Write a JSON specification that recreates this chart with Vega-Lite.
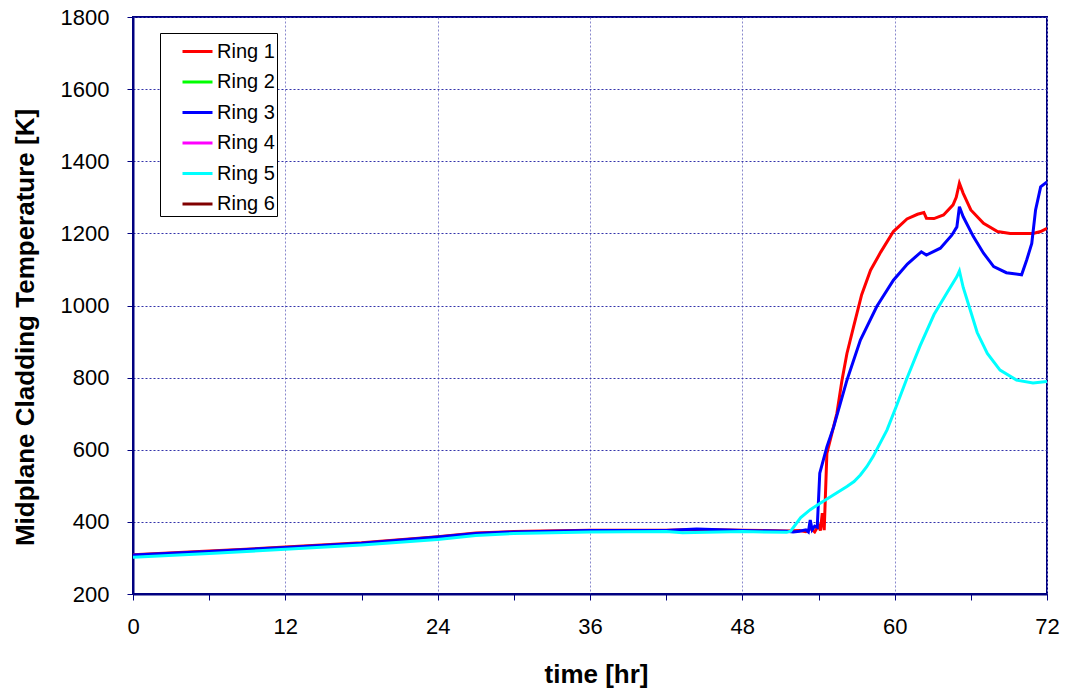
{
  "$schema": "https://vega.github.io/schema/vega-lite/v6.json",
  "width": 914,
  "height": 577,
  "autosize": {"type": "none"},
  "padding": {"left": 133, "top": 17, "right": 19, "bottom": 98},
  "background": "white",
  "config": {
    "font": "Liberation Sans",
    "view": {"stroke": "#000080", "strokeWidth": 2}
  },
  "data": {
    "values": [
      {"ring": "Ring 1", "t": 0, "T": 309},
      {"ring": "Ring 1", "t": 6, "T": 319},
      {"ring": "Ring 1", "t": 12, "T": 330},
      {"ring": "Ring 1", "t": 18, "T": 342},
      {"ring": "Ring 1", "t": 24, "T": 359},
      {"ring": "Ring 1", "t": 27, "T": 369},
      {"ring": "Ring 1", "t": 30, "T": 373},
      {"ring": "Ring 1", "t": 36, "T": 377},
      {"ring": "Ring 1", "t": 42, "T": 377},
      {"ring": "Ring 1", "t": 44.4, "T": 379},
      {"ring": "Ring 1", "t": 48, "T": 377},
      {"ring": "Ring 1", "t": 51.5, "T": 375},
      {"ring": "Ring 1", "t": 52.5, "T": 376},
      {"ring": "Ring 1", "t": 53.0, "T": 373},
      {"ring": "Ring 1", "t": 53.4, "T": 382},
      {"ring": "Ring 1", "t": 53.7, "T": 372},
      {"ring": "Ring 1", "t": 54.0, "T": 390},
      {"ring": "Ring 1", "t": 54.15, "T": 376},
      {"ring": "Ring 1", "t": 54.3, "T": 424},
      {"ring": "Ring 1", "t": 54.45, "T": 377},
      {"ring": "Ring 1", "t": 54.66, "T": 590},
      {"ring": "Ring 1", "t": 55.05, "T": 645},
      {"ring": "Ring 1", "t": 55.45, "T": 701},
      {"ring": "Ring 1", "t": 55.85, "T": 793},
      {"ring": "Ring 1", "t": 56.24, "T": 867},
      {"ring": "Ring 1", "t": 56.76, "T": 941},
      {"ring": "Ring 1", "t": 57.4, "T": 1030},
      {"ring": "Ring 1", "t": 58.1, "T": 1098},
      {"ring": "Ring 1", "t": 58.9, "T": 1148},
      {"ring": "Ring 1", "t": 59.9, "T": 1205},
      {"ring": "Ring 1", "t": 60.97, "T": 1240},
      {"ring": "Ring 1", "t": 61.8, "T": 1253},
      {"ring": "Ring 1", "t": 62.3, "T": 1258},
      {"ring": "Ring 1", "t": 62.5, "T": 1242},
      {"ring": "Ring 1", "t": 63.1, "T": 1241},
      {"ring": "Ring 1", "t": 63.85, "T": 1251},
      {"ring": "Ring 1", "t": 64.6, "T": 1279},
      {"ring": "Ring 1", "t": 64.85, "T": 1300},
      {"ring": "Ring 1", "t": 65.1, "T": 1339},
      {"ring": "Ring 1", "t": 65.4, "T": 1311},
      {"ring": "Ring 1", "t": 66.0, "T": 1265},
      {"ring": "Ring 1", "t": 67.0, "T": 1228},
      {"ring": "Ring 1", "t": 68.1, "T": 1205},
      {"ring": "Ring 1", "t": 69.1, "T": 1200},
      {"ring": "Ring 1", "t": 70.9, "T": 1200},
      {"ring": "Ring 1", "t": 71.5, "T": 1205},
      {"ring": "Ring 1", "t": 72, "T": 1214},

      {"ring": "Ring 3", "t": 0, "T": 308},
      {"ring": "Ring 3", "t": 6, "T": 318},
      {"ring": "Ring 3", "t": 12, "T": 329},
      {"ring": "Ring 3", "t": 18, "T": 341},
      {"ring": "Ring 3", "t": 24, "T": 358},
      {"ring": "Ring 3", "t": 27, "T": 368},
      {"ring": "Ring 3", "t": 30, "T": 372},
      {"ring": "Ring 3", "t": 36, "T": 376},
      {"ring": "Ring 3", "t": 42, "T": 376},
      {"ring": "Ring 3", "t": 44.4, "T": 380},
      {"ring": "Ring 3", "t": 48, "T": 376},
      {"ring": "Ring 3", "t": 51.5, "T": 374},
      {"ring": "Ring 3", "t": 52.0, "T": 372},
      {"ring": "Ring 3", "t": 52.5, "T": 374},
      {"ring": "Ring 3", "t": 53.0, "T": 378},
      {"ring": "Ring 3", "t": 53.2, "T": 372},
      {"ring": "Ring 3", "t": 53.35, "T": 405},
      {"ring": "Ring 3", "t": 53.5, "T": 378},
      {"ring": "Ring 3", "t": 53.7, "T": 388},
      {"ring": "Ring 3", "t": 53.9, "T": 385},
      {"ring": "Ring 3", "t": 54.1, "T": 535},
      {"ring": "Ring 3", "t": 54.66, "T": 608},
      {"ring": "Ring 3", "t": 55.2, "T": 664},
      {"ring": "Ring 3", "t": 56.24, "T": 793},
      {"ring": "Ring 3", "t": 57.3, "T": 904},
      {"ring": "Ring 3", "t": 58.6, "T": 998},
      {"ring": "Ring 3", "t": 59.9, "T": 1070},
      {"ring": "Ring 3", "t": 61.0, "T": 1115},
      {"ring": "Ring 3", "t": 62.1, "T": 1149},
      {"ring": "Ring 3", "t": 62.5, "T": 1140},
      {"ring": "Ring 3", "t": 63.6, "T": 1159},
      {"ring": "Ring 3", "t": 64.5, "T": 1195},
      {"ring": "Ring 3", "t": 64.9, "T": 1218},
      {"ring": "Ring 3", "t": 65.1, "T": 1274},
      {"ring": "Ring 3", "t": 65.4, "T": 1246},
      {"ring": "Ring 3", "t": 66.2, "T": 1191},
      {"ring": "Ring 3", "t": 67.0, "T": 1145},
      {"ring": "Ring 3", "t": 67.8, "T": 1108},
      {"ring": "Ring 3", "t": 68.8, "T": 1091},
      {"ring": "Ring 3", "t": 70.0, "T": 1085},
      {"ring": "Ring 3", "t": 70.4, "T": 1126},
      {"ring": "Ring 3", "t": 70.8, "T": 1172},
      {"ring": "Ring 3", "t": 71.1, "T": 1265},
      {"ring": "Ring 3", "t": 71.5, "T": 1329},
      {"ring": "Ring 3", "t": 72, "T": 1343},

      {"ring": "Ring 5", "t": 0, "T": 302},
      {"ring": "Ring 5", "t": 6, "T": 312},
      {"ring": "Ring 5", "t": 12, "T": 324},
      {"ring": "Ring 5", "t": 18, "T": 336},
      {"ring": "Ring 5", "t": 24, "T": 351},
      {"ring": "Ring 5", "t": 27, "T": 362},
      {"ring": "Ring 5", "t": 30, "T": 368},
      {"ring": "Ring 5", "t": 36, "T": 372},
      {"ring": "Ring 5", "t": 42, "T": 373},
      {"ring": "Ring 5", "t": 43.3, "T": 370},
      {"ring": "Ring 5", "t": 48, "T": 373},
      {"ring": "Ring 5", "t": 51.5, "T": 371},
      {"ring": "Ring 5", "t": 51.8, "T": 374},
      {"ring": "Ring 5", "t": 52.6, "T": 412},
      {"ring": "Ring 5", "t": 53.35, "T": 434},
      {"ring": "Ring 5", "t": 54.1, "T": 451},
      {"ring": "Ring 5", "t": 55.2, "T": 475},
      {"ring": "Ring 5", "t": 56.24, "T": 498},
      {"ring": "Ring 5", "t": 56.8, "T": 512},
      {"ring": "Ring 5", "t": 57.3, "T": 530},
      {"ring": "Ring 5", "t": 57.8, "T": 553},
      {"ring": "Ring 5", "t": 58.3, "T": 581},
      {"ring": "Ring 5", "t": 59.4, "T": 655},
      {"ring": "Ring 5", "t": 60.2, "T": 727},
      {"ring": "Ring 5", "t": 61.0, "T": 801},
      {"ring": "Ring 5", "t": 62.0, "T": 888},
      {"ring": "Ring 5", "t": 63.1, "T": 975},
      {"ring": "Ring 5", "t": 64.1, "T": 1034},
      {"ring": "Ring 5", "t": 64.9, "T": 1080},
      {"ring": "Ring 5", "t": 65.1, "T": 1096},
      {"ring": "Ring 5", "t": 65.4, "T": 1050},
      {"ring": "Ring 5", "t": 65.96, "T": 987},
      {"ring": "Ring 5", "t": 66.5, "T": 925},
      {"ring": "Ring 5", "t": 67.3, "T": 867},
      {"ring": "Ring 5", "t": 68.3, "T": 821},
      {"ring": "Ring 5", "t": 69.6, "T": 793},
      {"ring": "Ring 5", "t": 70.9, "T": 785},
      {"ring": "Ring 5", "t": 72, "T": 789}
    ]
  },
  "mark": {"type": "line", "strokeWidth": 3, "clip": true},
  "encoding": {
    "x": {
      "field": "t",
      "type": "quantitative",
      "scale": {"domain": [0, 72], "nice": false},
      "axis": {
        "title": "time [hr]",
        "titleFontSize": 26,
        "titleFontWeight": "bold",
        "titleColor": "black",
        "titlePadding": 24,
        "titleX": 463,
        "values": [0, 6, 12, 18, 24, 30, 36, 42, 48, 54, 60, 66, 72],
        "labelExpr": "datum.value % 12 === 0 ? datum.label : ''",
        "labelFontSize": 22,
        "labelColor": "black",
        "labelPadding": 16,
        "labelFlush": false,
        "tickSize": 6,
        "tickColor": "#000080",
        "domainColor": "#000080",
        "domainWidth": 2,
        "grid": true,
        "gridColor": "#8888cc",
        "gridDash": [2, 2],
        "gridWidth": 1,
        "gridOpacity": {"condition": {"test": "datum.value % 12 === 0", "value": 1}, "value": 0}
      }
    },
    "y": {
      "field": "T",
      "type": "quantitative",
      "scale": {"domain": [200, 1800], "nice": false},
      "axis": {
        "title": "Midplane Cladding Temperature [K]",
        "titleFontSize": 26,
        "titleFontWeight": "bold",
        "titleColor": "black",
        "titlePadding": 22,
        "titleY": 310,
        "values": [200, 400, 600, 800, 1000, 1200, 1400, 1600, 1800],
        "format": "d",
        "labelFontSize": 22,
        "labelColor": "black",
        "labelPadding": 18,
        "labelFlush": false,
        "tickSize": 6,
        "tickColor": "#000080",
        "domainColor": "#000080",
        "domainWidth": 2,
        "grid": true,
        "gridColor": "#3333aa",
        "gridDash": [2, 2],
        "gridWidth": 1
      }
    },
    "color": {
      "field": "ring",
      "type": "nominal",
      "scale": {
        "domain": ["Ring 1", "Ring 2", "Ring 3", "Ring 4", "Ring 5", "Ring 6"],
        "range": ["#ff0000", "#00ff00", "#0000ff", "#ff00ff", "#00ffff", "#800000"]
      },
      "legend": {
        "title": null,
        "orient": "none",
        "legendX": 27,
        "legendY": 16,
        "fillColor": "white",
        "strokeColor": "black",
        "padding": 2,
        "symbolType": "stroke",
        "symbolSize": 900,
        "symbolStrokeWidth": 3,
        "symbolOffset": 19,
        "rowPadding": 3.5,
        "labelFontSize": 20,
        "labelColor": "black",
        "labelOffset": 3,
        "labelExpr": "datum.label + '\u00a0\u00a0\u00a0\u00a0'"
      }
    }
  }
}
